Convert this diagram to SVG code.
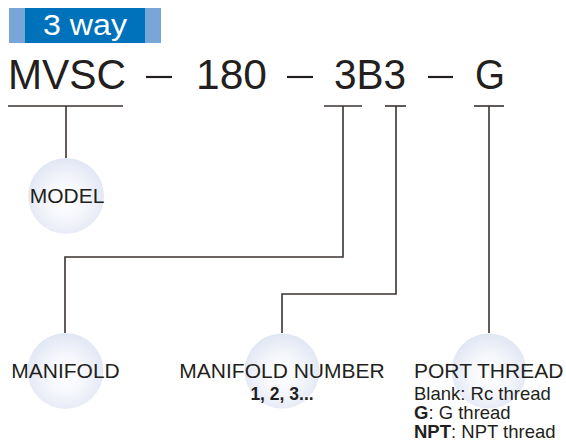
<svg xmlns="http://www.w3.org/2000/svg" width="566" height="441" viewBox="0 0 566 441">
<style>
.t{font-family:"Liberation Sans",Arial,sans-serif;fill:#231F20}
.big{font-size:43px}
.lbl{font-size:21px;text-anchor:middle}
.sub{font-size:18.5px}
.b{font-weight:bold}
.ln{stroke:#3A3331;stroke-width:1.6;fill:none}
.dash{stroke:#231F20;stroke-width:2.2}
</style>
<defs>
<radialGradient id="ball" cx="0.5" cy="0.55" r="0.55">
<stop offset="0" stop-color="#FFFFFF"/>
<stop offset="0.45" stop-color="#F6F7FC"/>
<stop offset="1" stop-color="#E1E6F4"/>
</radialGradient>
</defs>
<rect width="566" height="441" fill="#FFFFFF"/>
<g id="banner">
<rect x="9" y="8" width="152" height="35" fill="#78A6D8"/>
<rect x="25" y="8" width="120" height="35" fill="#0072BC"/>
<text class="t" x="43" y="35" font-size="29" fill="#FFFFFF" style="fill:#FFFFFF" textLength="84" lengthAdjust="spacingAndGlyphs">3 way</text>
</g>
<g id="code">
<text class="t big" x="8" y="89" textLength="118" lengthAdjust="spacingAndGlyphs">MVSC</text>
<line class="dash" x1="146" y1="77" x2="172" y2="77"/>
<text class="t big" x="196" y="89" textLength="71" lengthAdjust="spacingAndGlyphs">180</text>
<line class="dash" x1="287" y1="77" x2="313" y2="77"/>
<text class="t big" x="334" y="89" textLength="72" lengthAdjust="spacingAndGlyphs">3B3</text>
<line class="dash" x1="428" y1="77" x2="453" y2="77"/>
<text class="t big" x="475" y="89" textLength="30" lengthAdjust="spacingAndGlyphs">G</text>
</g>
<g id="connectors">
<line class="ln" x1="8" y1="106" x2="123" y2="106"/>
<line class="ln" x1="66" y1="106" x2="66" y2="158"/>
<line class="ln" x1="324" y1="106" x2="362" y2="106"/>
<polyline class="ln" points="343,106 343,257 65,257 65,333"/>
<line class="ln" x1="385" y1="106" x2="406" y2="106"/>
<polyline class="ln" points="396,106 396,294 282,294 282,333"/>
<line class="ln" x1="474" y1="106" x2="504" y2="106"/>
<line class="ln" x1="489" y1="106" x2="489" y2="333"/>
</g>
<g id="model">
<circle cx="66" cy="196" r="38" fill="url(#ball)"/>
<text class="t lbl" x="67" y="203">MODEL</text>
</g>
<g id="manifold">
<circle cx="65.5" cy="371" r="38" fill="url(#ball)"/>
<text class="t lbl" x="65.5" y="378">MANIFOLD</text>
</g>
<g id="manifold-number">
<circle cx="282" cy="371" r="37.5" fill="url(#ball)"/>
<text class="t lbl" x="282" y="378">MANIFOLD NUMBER</text>
<text class="t b" x="282" y="400" font-size="17.5" text-anchor="middle">1, 2, 3...</text>
</g>
<g id="port-thread">
<circle cx="489" cy="371" r="37.5" fill="url(#ball)"/>
<text class="t" x="414" y="378" font-size="21">PORT THREAD</text>
<text class="t sub" x="414" y="400">Blank: Rc thread</text>
<text class="t sub" x="414" y="419"><tspan class="b">G</tspan>: G thread</text>
<text class="t sub" x="414" y="438"><tspan class="b">NPT</tspan>: NPT thread</text>
</g>
</svg>
